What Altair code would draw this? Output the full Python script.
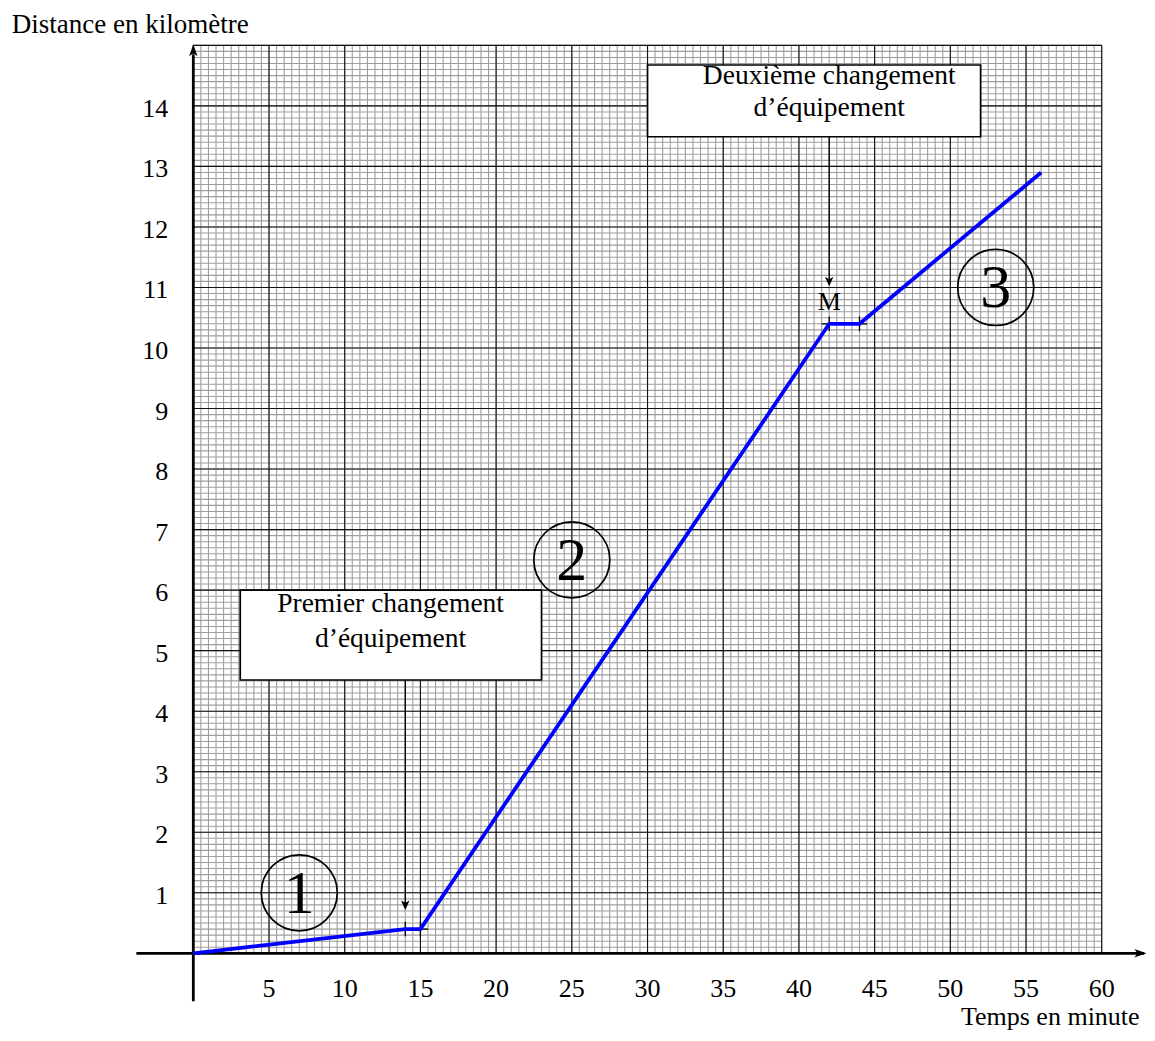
import altair as alt
import numpy as np
import pandas as pd

# ---- data ----
time_min = [0, 14, 15, 42, 44, 56]
dist_km = [0, 0.4, 0.4, 10.4, 10.4, 12.9]

x_tick_values = [5, 10, 15, 20, 25, 30, 35, 40, 45, 50, 55, 60]
y_tick_values = [1, 2, 3, 4, 5, 6, 7, 8, 9, 10, 11, 12, 13, 14]

# flat parts (equipment changes) -> tick crosses
change_x = [14, 15, 42, 44]
change_y = [0.4, 0.4, 10.4, 10.4]

# annotation boxes
box_x1 = [3.1, 30.0]
box_x2 = [23.0, 52.0]
box_y1 = [4.515, 13.49]
box_y2 = [6.0, 14.675]
box_line1 = ["Premier changement", "Deuxième changement"]
box_line2 = ["d\u2019équipement", "d\u2019équipement"]
box_text_x = [13.03, 42.0]
box_text_y1 = [5.643, 14.357]
box_text_y2 = [5.065, 13.838]
arrow_x = [14, 42]
arrow_tip = [0.717, 11.02]

# circled segment numbers
circle_x = [7, 25, 53]
circle_y = [1.0, 6.5, 11.0]
circle_lbl = ["1", "2", "3"]

FONT = "Liberation Serif"
XMIN, XMAX = -12.24, 62.99
YMIN, YMAX = -1.267, 15.617

xs = alt.Scale(domain=[XMIN, XMAX], nice=False, zero=False)
ys = alt.Scale(domain=[YMIN, YMAX], nice=False, zero=False)


def X(f="x"):
    return alt.X(f"{f}:Q", scale=xs, axis=None)


def Y(f="y"):
    return alt.Y(f"{f}:Q", scale=ys, axis=None)


# ---- grid ----
minor_v = pd.DataFrame({"x": np.arange(0, 60.01, 0.5), "y": 0.0, "y2": 15.0})
minor_h = pd.DataFrame({"y": np.round(np.arange(0, 15.001, 0.1), 2), "x": 0.0, "x2": 60.0})
major_v = pd.DataFrame({"x": np.arange(0, 60.01, 5.0), "y": 0.0, "y2": 15.0})
major_h = pd.DataFrame({"y": np.arange(0, 15.01, 1.0), "x": 0.0, "x2": 60.0})

g_minor_v = alt.Chart(minor_v).mark_rule(color="#9e9e9e", strokeWidth=1.1).encode(
    x=X(), y=Y(), y2="y2:Q")
g_minor_h = alt.Chart(minor_h).mark_rule(color="#9e9e9e", strokeWidth=1.1).encode(
    y=Y(), x=X(), x2="x2:Q")
g_major_v = alt.Chart(major_v).mark_rule(color="#111111", strokeWidth=1.1).encode(
    x=X(), y=Y(), y2="y2:Q")
g_major_h = alt.Chart(major_h).mark_rule(color="#111111", strokeWidth=1.1).encode(
    y=Y(), x=X(), x2="x2:Q")

# ---- axes with arrows ----
axes_df = pd.DataFrame({"x": [-3.76, 0.0], "x2": [62.8, 0.0],
                        "y": [0.0, -0.79], "y2": [0.0, 14.85]})
axes = alt.Chart(axes_df).mark_rule(color="black", strokeWidth=2.8).encode(
    x=X(), x2="x2:Q", y=Y(), y2="y2:Q")

arrow_up = "M0,0 L-0.7,2 L0,1.5 L0.7,2 Z"
arrow_right = "M0,0 L-2,-0.7 L-1.5,0 L-2,0.7 Z"
arrow_down = "M0,0 L-0.9,-2 L0,-1.5 L0.9,-2 Z"

ax_up = alt.Chart(pd.DataFrame({"x": [0.0], "y": [15.02]})).mark_point(
    shape=arrow_up, filled=True, color="black", size=144, opacity=1).encode(x=X(), y=Y())
ax_right = alt.Chart(pd.DataFrame({"x": [62.95], "y": [0.0]})).mark_point(
    shape=arrow_right, filled=True, color="black", size=144, opacity=1).encode(x=X(), y=Y())

# ---- tick labels ----
xt = alt.Chart(pd.DataFrame({"x": x_tick_values, "y": 0.0})).mark_text(
    font=FONT, fontSize=26, align="center", baseline="alphabetic", dy=44, color="black"
).encode(x=X(), y=Y(), text="x:Q")
yt = alt.Chart(pd.DataFrame({"y": y_tick_values, "x": 0.0})).mark_text(
    font=FONT, fontSize=26, align="right", baseline="alphabetic", dx=-25, dy=11, color="black"
).encode(x=X(), y=Y(), text="y:Q")

# ---- axis titles ----
ytitle = alt.Chart(pd.DataFrame({"x": [-11.99], "y": [15.2], "t": ["Distance en kilomètre"]})).mark_text(
    font=FONT, fontSize=27, align="left", baseline="alphabetic", color="black"
).encode(x=X(), y=Y(), text="t:N")
xtitle = alt.Chart(pd.DataFrame({"x": [50.7], "y": [-1.185], "t": ["Temps en minute"]})).mark_text(
    font=FONT, fontSize=26, align="left", baseline="alphabetic", color="black"
).encode(x=X(), y=Y(), text="t:N")

# ---- boxes ----
boxes_df = pd.DataFrame({"x": box_x1, "x2": box_x2, "y": box_y1, "y2": box_y2})
boxes = alt.Chart(boxes_df).mark_rect(fill="white", stroke="black", strokeWidth=1.7).encode(
    x=X(), x2="x2:Q", y=Y(), y2="y2:Q")

btxt_df = pd.DataFrame({
    "x": box_text_x + box_text_x,
    "y": box_text_y1 + box_text_y2,
    "t": box_line1 + box_line2})
btxt = alt.Chart(btxt_df).mark_text(
    font=FONT, fontSize=27.5, align="center", baseline="alphabetic", color="black"
).encode(x=X(), y=Y(), text="t:N")

# ---- annotation arrows ----
shaft_df = pd.DataFrame({"x": arrow_x, "y": box_y1, "y2": [t + 0.05 for t in arrow_tip]})
shafts = alt.Chart(shaft_df).mark_rule(color="black", strokeWidth=1.4).encode(
    x=X(), y=Y(), y2="y2:Q")
heads = alt.Chart(pd.DataFrame({"x": arrow_x, "y": arrow_tip})).mark_point(
    shape=arrow_down, filled=True, color="black", size=90, opacity=1).encode(x=X(), y=Y())

m_label = alt.Chart(pd.DataFrame({"x": [42.0], "y": [10.63], "t": ["M"]})).mark_text(
    font=FONT, fontSize=26, align="center", baseline="alphabetic", color="black"
).encode(x=X(), y=Y(), text="t:N")

# ---- black segments & crosses at the flat parts ----
flat_df = pd.DataFrame({"x": [13.5, 41.5], "x2": [15.5, 44.5], "y": [0.4, 10.4]})
flats = alt.Chart(flat_df).mark_rule(color="black", strokeWidth=1.3).encode(
    x=X(), x2="x2:Q", y=Y())
cross_df = pd.DataFrame({"x": change_x,
                         "y": [v - 0.12 for v in change_y],
                         "y2": [v + 0.12 for v in change_y]})
crosses = alt.Chart(cross_df).mark_rule(color="black", strokeWidth=1.3).encode(
    x=X(), y=Y(), y2="y2:Q")

# ---- the blue curve ----
line_df = pd.DataFrame({"x": time_min, "y": dist_km, "o": range(len(time_min))})
curve = alt.Chart(line_df).mark_line(color="#0000ff", strokeWidth=3.8, strokeJoin="miter").encode(
    x=X(), y=Y(), order="o:Q")

# ---- circled numbers ----
circ_df = pd.DataFrame({"x": circle_x, "y": circle_y, "t": circle_lbl})
circles = alt.Chart(circ_df).mark_point(
    shape="circle", filled=False, stroke="black", strokeWidth=1.7, size=5776, opacity=1
).encode(x=X(), y=Y())
circ_txt = alt.Chart(circ_df).mark_text(
    font=FONT, fontSize=62, align="center", baseline="middle", color="black", dy=1
).encode(x=X(), y=Y(), text="t:N")

chart = alt.layer(
    g_minor_v, g_minor_h, g_major_v, g_major_h,
    boxes, btxt,
    axes, ax_up, ax_right,
    xt, yt, ytitle, xtitle,
    flats, crosses, curve,
    shafts, heads, m_label,
    circles, circ_txt,
).properties(
    width=1139, height=1022, padding=0,
    autosize=alt.AutoSizeParams(type="none"),
    background="white",
).configure_view(stroke=None)

chart.save("out.html", embed_options={"renderer": "svg", "actions": False})
